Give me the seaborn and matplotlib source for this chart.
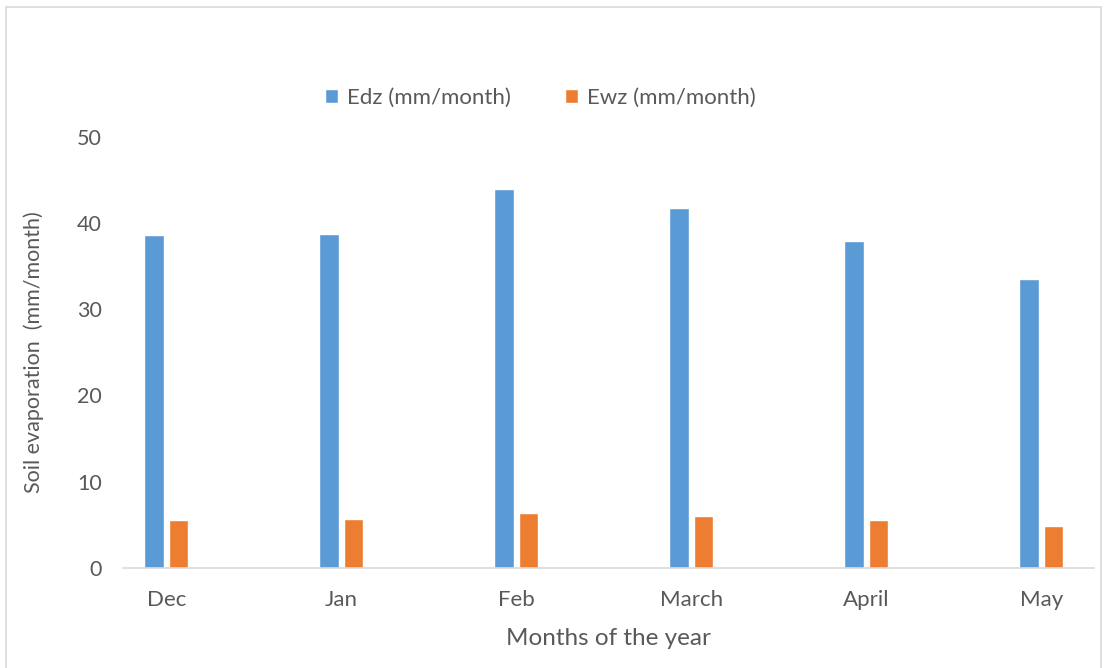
import matplotlib
matplotlib.use("Agg")
import matplotlib.pyplot as plt
import seaborn as sns
import pandas as pd
from matplotlib.patches import Rectangle

months = ["Dec", "Jan", "Feb", "March", "April", "May"]
edz = [38.6, 38.7, 44.0, 41.8, 37.9, 33.5]
ewz = [5.6, 5.65, 6.35, 6.05, 5.5, 4.9]
series = ["Edz (mm/month)", "Ewz (mm/month)"]
colors = ["#5B9BD5", "#ED7D31"]

df = pd.DataFrame({
    "month": months * 2,
    "value": edz + ewz,
    "series": [series[0]] * len(months) + [series[1]] * len(months),
})

sns.set_theme(style="white")
plt.rcParams["font.family"] = ["Lato", "DejaVu Sans"]

fig = plt.figure(figsize=(11.05, 6.68), dpi=100)
ax = fig.add_axes([0.111, 0.150, 0.879, 0.645])

sns.barplot(data=df, x="month", y="value", hue="series", order=months,
            hue_order=series, palette=colors, width=0.28, gap=0.2,
            saturation=1, ax=ax, errorbar=None)

ax.set_ylim(0, 50)
ax.set_yticks([0, 10, 20, 30, 40, 50])
ax.set_xlim(-0.25, 5.3)
text_color = "#595959"
for s in ["left", "right", "top"]:
    ax.spines[s].set_visible(False)
ax.spines["bottom"].set_color("#D9D9D9")
ax.spines["bottom"].set_linewidth(1.2)
ax.tick_params(axis="y", length=0, pad=15, labelsize=15.5, labelcolor=text_color)
ax.tick_params(axis="x", length=0, pad=16, labelsize=16, labelcolor=text_color)
ax.set_xlabel("Months of the year", fontsize=17.5, color=text_color, labelpad=13)
ax.set_ylabel("Soil evaporation  (mm/month)", fontsize=15.5, color=text_color, labelpad=24)

handles, labels = ax.get_legend_handles_labels()
ax.legend_.remove()
fig.legend(handles, labels, loc="center", bbox_to_anchor=(0.489, 0.853), ncol=2,
           frameon=False, fontsize=16, labelcolor=text_color,
           handlelength=0.6, handleheight=0.6, handletextpad=0.4, columnspacing=2.4)

fig.patches.append(Rectangle((6 / 1105, -0.05), 1095 / 1105, 1.05 - 7 / 668,
                             transform=fig.transFigure, fill=False,
                             edgecolor="#D9D9D9", linewidth=1.2))

fig.savefig("out.png", dpi=100, facecolor="white")
